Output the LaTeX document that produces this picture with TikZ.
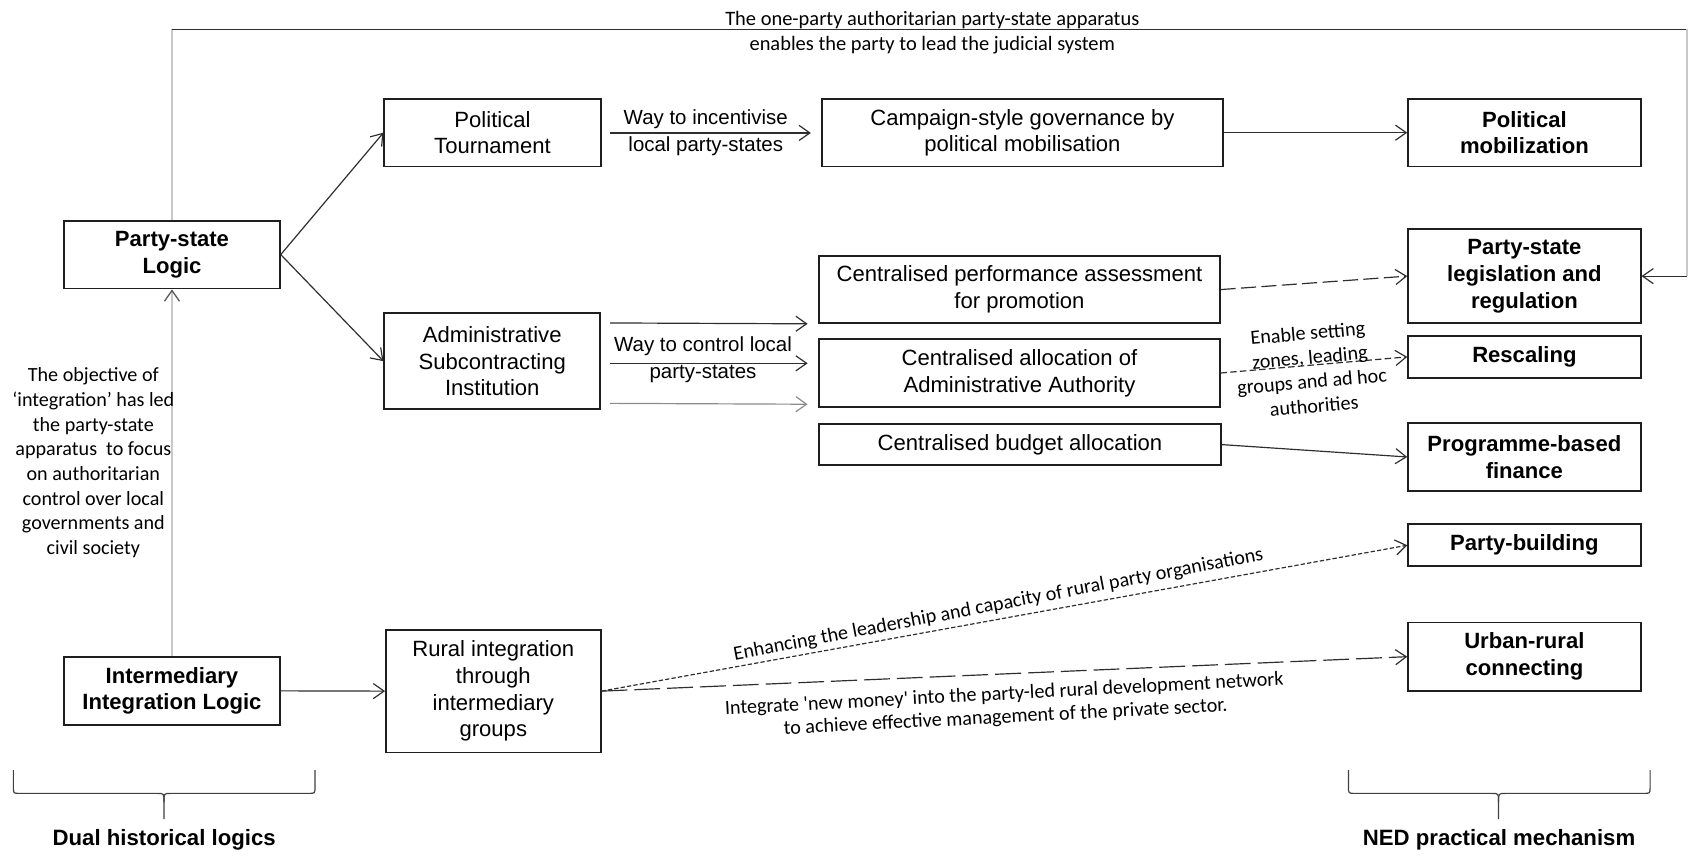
\documentclass[tikz,border=0pt]{standalone}
\usepackage{fontspec}
\setmainfont{Liberation Sans}
\newfontfamily\calfont{Carlito}
\usetikzlibrary{arrows.meta,calc}

\definecolor{boxc}{HTML}{1E1E1E}
\definecolor{arrc}{HTML}{2E2E2E}
\definecolor{lightc}{HTML}{C8C8C8}
\definecolor{midc}{HTML}{8C8C8C}

\tikzset{
  box/.style={draw=boxc, line width=0.8pt, inner sep=0pt, align=center,
    font=\fontsize{10.25}{12.4}\selectfont},
  boldbox/.style={box, font=\fontsize{10.25}{12.4}\selectfont\bfseries},
  arr/.style={draw=arrc, line width=0.55pt, -{Straight Barb[length=5pt,width=7pt]}},
  dasharr/.style={arr, dash pattern=on 7pt off 2.5pt},
  finearr/.style={arr, dash pattern=on 2pt off 1pt},
  longarr/.style={arr, dash pattern=on 12pt off 3.25pt},
  frame/.style={draw=arrc, line width=0.55pt},
  faint/.style={draw=lightc, line width=0.6pt},
  lab/.style={inner sep=0pt, align=center, font=\fontsize{9.5}{12.5}\selectfont},
  note/.style={inner sep=0pt, align=center, font=\calfont\fontsize{9.35}{11.5}\selectfont},
  bracec/.style={draw=black!75, line width=0.55pt},
  caption/.style={inner sep=0pt, font=\fontsize{10.3}{12.4}\selectfont\bfseries},
}

\begin{document}
\begin{tikzpicture}[x=0.5pt, y=-0.5pt]
\useasboundingbox (0,0) rectangle (1568,795);
\fill[white] (0,0) rectangle (1568,795);

% ---------- boxes ----------
\node[boldbox, minimum width=100.25pt, minimum height=31.5pt] (pslogic) at (159.75,236.5) {Party-state\\Logic};
\node[boldbox, minimum width=100.25pt, minimum height=31.75pt] (interm) at (159.75,641.75) {Intermediary\\Integration Logic};

\node[box, minimum width=100.5pt, minimum height=31.5pt] (tourn) at (457.5,123.25) {Political\\Tournament};
\node[box, minimum width=100.25pt, minimum height=44.5pt] (admin) at (457.25,335.5) {Administrative\\Subcontracting\\Institution};
\node[box, minimum width=99.75pt, minimum height=57pt] (rural) at (458.25,642) {Rural integration\\through\\intermediary\\groups};

\node[box, minimum width=186.25pt, minimum height=31.5pt] (campaign) at (949.75,123.25) {Campaign-style governance by\\political mobilisation};
\node[box, minimum width=186pt, minimum height=31pt] (perf) at (947,269) {Centralised performance assessment\\for promotion};
\node[box, minimum width=186pt, minimum height=31.5pt] (alloc) at (947,346.5) {Centralised allocation of\\Administrative Authority};
\node[box, minimum width=186.5pt, minimum height=19pt] (budget) at (947.5,413) {Centralised budget allocation};

\node[boldbox, minimum width=108pt, minimum height=31.5pt] (polmob) at (1416,123.25) {Political\\mobilization};
\node[boldbox, minimum width=108pt, minimum height=43.5pt] (legis) at (1416,256.5) {Party-state\\legislation and\\regulation};
\node[boldbox, minimum width=108pt, minimum height=19.5pt] (rescal) at (1416,331.5) {Rescaling};
\node[boldbox, minimum width=108pt, minimum height=31.5pt] (progfin) at (1416,424.5) {Programme-based\\finance};
\node[boldbox, minimum width=108pt, minimum height=19.5pt] (partyb) at (1416,506.5) {Party-building};
\node[boldbox, minimum width=108pt, minimum height=31.75pt] (urban) at (1416,610) {Urban-rural\\connecting};

% ---------- outer frame: party leads the judicial system ----------
\coordinate (tl) at (159.75,27.3);
\coordinate (tr) at (1567,27.3);
\coordinate (rr) at (1567,256.5);
\draw[faint] (pslogic.north) -- (tl);
\draw[frame] (tl) -- (tr);
\draw[faint] (tr) -- (rr);
\draw[arr] (rr) -- (legis.east);
\node[note, font=\calfont\fontsize{9.5}{11.6}\selectfont] (topnote) at (866,30.2)
  {The one-party authoritarian party-state apparatus\\enables the party to lead the judicial system};

% ---------- integration objective ----------
\draw[faint, -{Straight Barb[length=5pt,width=7pt,color=black!65]}] (interm.north) -- (pslogic.south);
\node[note, font=\calfont\fontsize{9.35}{11.45}\selectfont] (objective) at (86.7,429.8)
  {The objective of\\‘integration’ has led\\the party-state\\apparatus\ \ to focus\\on authoritarian\\control over local\\governments and\\civil society};

% ---------- party-state logic branch ----------
\draw[arr] (pslogic.east) -- (tourn.west);
\draw[arr] (pslogic.east) -- (admin.west);

\draw[arr] ($(tourn.east)+(8,0.25)$) -- ($(campaign.west)+(-9.5,0.25)$);
\node[lab] (inclab) at (655.6,123.5) {Way to incentivise\\local party-states};
\draw[arr] (campaign.east) -- (polmob.west);

\draw[arr] ($(admin.east)+(8.5,-35.5)$) -- ($(perf.south west)+(-10,0)$);
\draw[arr] ($(admin.east)+(8.5,2)$) -- ($(alloc.west)+(-10,-9)$);
\draw[arr, draw=midc] ($(admin.east)+(8.5,39.2)$) -- ($(alloc.south west)+(-10,-3.3)$);
\node[lab] (ctrllab) at (653,334) {Way to control local\\party-states};

\draw[dasharr] (perf.east) -- (legis.west);
\draw[arr, dash pattern=on 3pt off 1.5pt] (alloc.east) -- (rescal.west);
\node[note, rotate=5, font=\calfont\fontsize{9.35}{11.3}\selectfont] (enablelab) at (1217.7,343)
  {Enable setting\\zones, leading\\groups and ad hoc\\authorities};
\draw[arr] (budget.east) -- (progfin.west);

% ---------- intermediary integration branch ----------
\draw[arr] (interm.east) -- (rural.west);
\draw[finearr] (rural.east) -- (partyb.west);
\node[note, rotate=10.7] (enhlab) at (927.5,562)
  {Enhancing the leadership and capacity of rural party organisations};
\draw[longarr] (rural.east) -- (urban.west);
\node[note, rotate=3, font=\calfont\fontsize{9.35}{10.7}\selectfont] (intlab) at (933.5,656)
  {Integrate \textquotesingle new money\textquotesingle{} into the party-led rural development network\\to achieve effective management of the private sector.};

% ---------- braces ----------
\draw[bracec] (12.4,715.3) -- (12.4,731) .. controls (12.4,737) .. (18.4,737) -- (146.3,737)
  .. controls (152.3,737) .. (152.3,745) -- (152.3,761);
\draw[bracec] (292.6,715.3) -- (292.6,731) .. controls (292.6,737) .. (286.6,737) -- (158.3,737)
  .. controls (152.3,737) .. (152.3,745);
\node[caption] (duallab) at (152.5,780) {Dual historical logics};

\draw[bracec] (1252.6,715.3) -- (1252.6,731) .. controls (1252.6,737) .. (1258.6,737) -- (1386,737)
  .. controls (1392,737) .. (1392,745) -- (1392,761);
\draw[bracec] (1532.8,715.3) -- (1532.8,731) .. controls (1532.8,737) .. (1526.8,737) -- (1398,737)
  .. controls (1392,737) .. (1392,745);
\node[caption] (nedlab) at (1392.5,780) {NED practical mechanism};

\end{tikzpicture}
\end{document}
